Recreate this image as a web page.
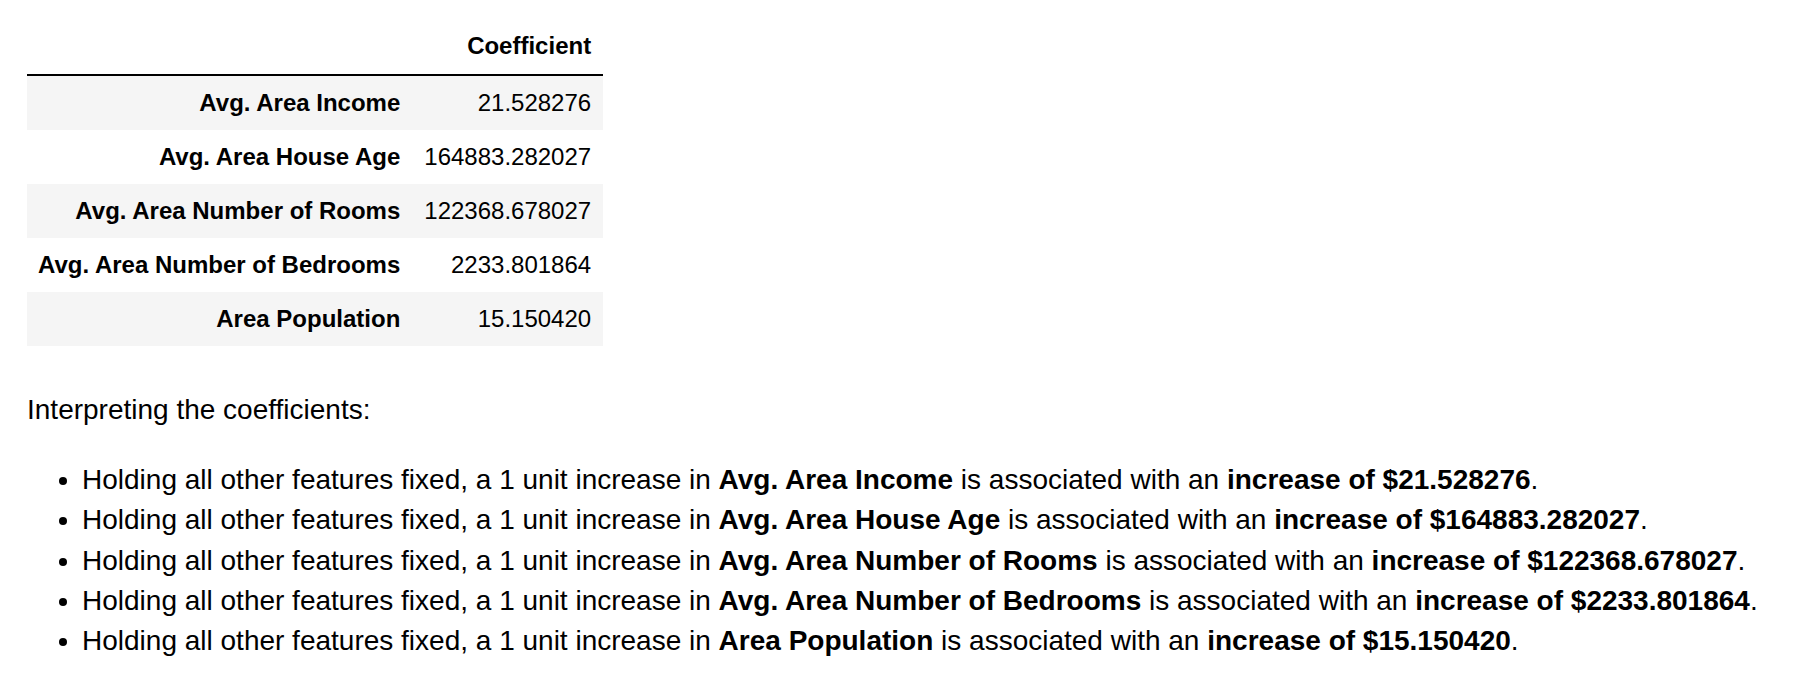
<!DOCTYPE html>
<html>
<head>
<meta charset="utf-8">
<script src="https://cdn.jsdelivr.net/npm/chart.js@4"></script>
<style>
  body { margin: 0; background: #fff; font-family: "Liberation Sans", Arial, sans-serif; color: #000; width: 1812px; height: 698px; overflow: hidden; }
  #wrap { position: absolute; left: 27px; top: 18px; }
  table { border-collapse: collapse; font-size: 24px; }
  th, td { text-align: right; padding: 0 12px; height: 54px; }
  thead th { height: 56px; border-bottom: 2px solid #000; vertical-align: middle; }
  tbody tr:nth-child(odd) { background: #f5f5f5; }
  tbody th { font-weight: bold; padding-left: 11px; }
  p { position: absolute; left: 27px; top: 394px; margin: 0; font-size: 28px; }
  ul { position: absolute; left: 27px; top: 460px; margin: 0; padding-left: 55px; font-size: 28px; }
  li { height: 40.3px; line-height: 40px; }
</style>
</head>
<body>
<div id="wrap">
  <table>
    <thead><tr><th></th><th id="colHead"></th></tr></thead>
    <tbody id="rows"></tbody>
  </table>
</div>
<p>Interpreting the coefficients:</p>
<ul id="notes"></ul>
<script>
const columnName = 'Coefficient';
const features = ['Avg. Area Income', 'Avg. Area House Age', 'Avg. Area Number of Rooms', 'Avg. Area Number of Bedrooms', 'Area Population'];
const coefficients = ['21.528276', '164883.282027', '122368.678027', '2233.801864', '15.150420'];

document.getElementById('colHead').textContent = columnName;
const rows = document.getElementById('rows');
const notes = document.getElementById('notes');
features.forEach((f, i) => {
    const tr = document.createElement('tr');
    const th = document.createElement('th');
    th.textContent = f;
    const td = document.createElement('td');
    td.textContent = coefficients[i];
    tr.appendChild(th);
    tr.appendChild(td);
    rows.appendChild(tr);

    const li = document.createElement('li');
    li.innerHTML = 'Holding all other features fixed, a 1 unit increase in <b>' + f +
        '</b> is associated with an <b>increase of $' + coefficients[i] + '</b>.';
    notes.appendChild(li);
});
</script>
</body>
</html>
